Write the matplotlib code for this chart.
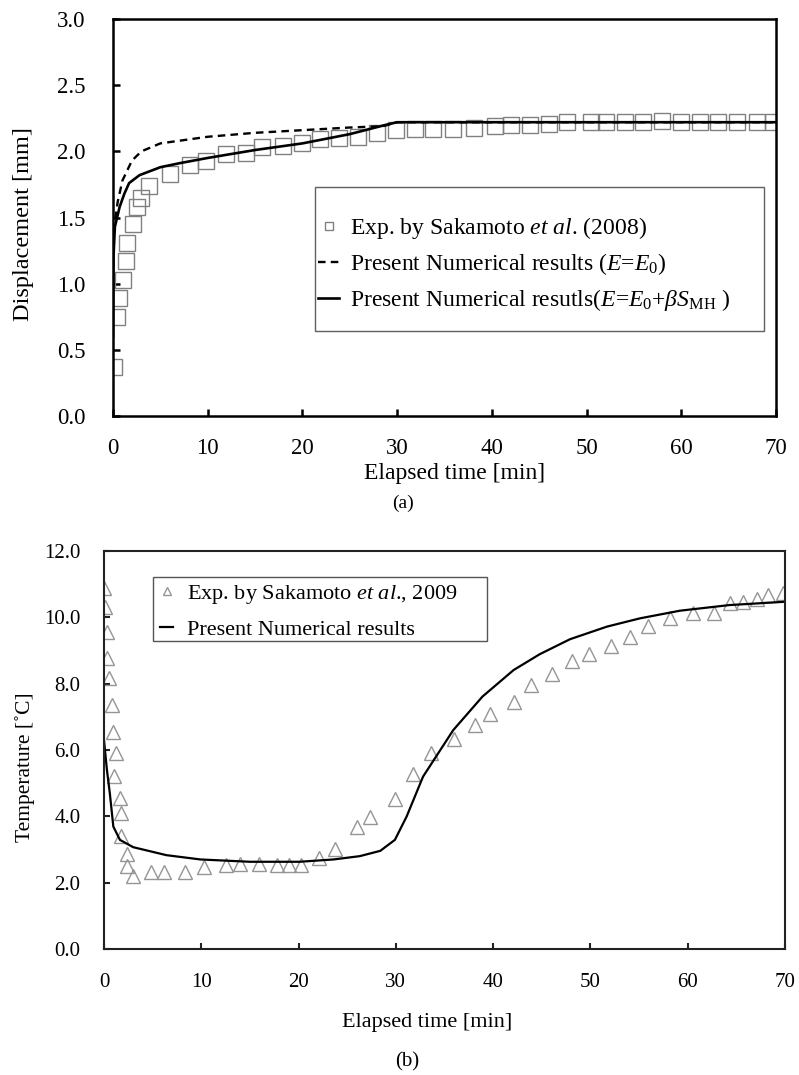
import matplotlib
matplotlib.use("Agg")
import matplotlib.pyplot as plt
from matplotlib.patches import Rectangle

plt.rcParams['font.family'] = ['Liberation Serif', 'DejaVu Serif']
plt.rcParams['mathtext.fontset'] = 'custom'
plt.rcParams['mathtext.rm'] = 'Liberation Serif'
plt.rcParams['mathtext.it'] = 'Liberation Serif:italic'
plt.rcParams['mathtext.bf'] = 'Liberation Serif:bold'

# ---------------- data: panel (a) displacement ----------------
exp_a_t = [0.1, 0.39, 0.67, 1.02, 1.34, 1.51, 2.08, 2.53, 2.92, 3.83, 6.0, 8.1, 9.8,
           11.9, 14.0, 15.7, 17.9, 20.0, 21.9, 23.9, 25.9, 27.9, 29.9, 31.9, 33.8,
           35.9, 38.1, 40.3, 42.0, 44.0, 46.0, 47.9, 50.5, 52.1, 54.1, 56.0, 58.0,
           60.0, 62.0, 63.9, 65.9, 68.0, 69.7]
exp_a_d = [0.37, 0.75, 0.89, 1.03, 1.17, 1.31, 1.45, 1.58, 1.65, 1.74, 1.83, 1.90, 1.93,
           1.98, 1.99, 2.03, 2.04, 2.06, 2.09, 2.10, 2.11, 2.14, 2.16, 2.17, 2.17,
           2.17, 2.18, 2.19, 2.20, 2.20, 2.21, 2.22, 2.22, 2.22, 2.22, 2.22, 2.23,
           2.22, 2.22, 2.22, 2.22, 2.22, 2.22]

num0_t = [0, 0.15, 0.5, 1.0, 2.0, 3.0, 5.0, 6.0, 10, 15, 20, 25, 28.5, 30, 40, 50, 60, 70]
num0_d = [1.2, 1.45, 1.62, 1.78, 1.93, 2.00, 2.06, 2.07, 2.11, 2.14, 2.16, 2.18, 2.19,
          2.22, 2.22, 2.22, 2.22, 2.22]

num1_t = [0, 0.05, 0.2, 0.7, 1.2, 1.7, 2.8, 5, 7, 10, 15, 20, 25, 28.8, 30, 40, 50, 60, 70]
num1_d = [0.6, 1.2, 1.43, 1.58, 1.68, 1.76, 1.82, 1.88, 1.91, 1.95, 2.01, 2.06, 2.13,
          2.20, 2.22, 2.22, 2.22, 2.22, 2.22]

# ---------------- data: panel (b) temperature ----------------
exp_b_t = [0.0, 0.1, 0.27, 0.27, 0.55, 0.86, 0.9, 1.2, 1.06, 1.64, 1.71, 1.71, 2.33, 2.4,
           3.0, 4.83, 6.2, 8.3, 10.3, 12.5, 14.0, 15.9, 17.8, 19.0, 20.2, 22.1, 23.7,
           26.0, 27.3, 29.9, 31.8, 33.6, 36.0, 38.1, 39.7, 42.1, 43.9, 46.1, 48.1,
           49.9, 52.1, 54.1, 55.9, 58.2, 60.5, 62.7, 64.3, 65.7, 67.1, 68.3, 69.8]
exp_b_T = [10.87, 10.32, 9.57, 8.76, 8.16, 7.36, 6.55, 5.90, 5.22, 4.54, 4.11, 3.41, 2.86,
           2.50, 2.20, 2.33, 2.33, 2.33, 2.48, 2.53, 2.56, 2.56, 2.53, 2.53, 2.53, 2.73,
           3.02, 3.69, 3.99, 4.51, 5.28, 5.90, 6.32, 6.75, 7.09, 7.46, 7.96, 8.29, 8.68,
           8.89, 9.13, 9.42, 9.74, 9.98, 10.12, 10.12, 10.44, 10.47, 10.55, 10.67, 10.72]

num_b_t = [0, 0.3, 0.6, 0.96, 1.64, 3.0, 6.4, 9.9, 15, 20.1, 23.6, 26.3, 28.4, 29.9,
           31.1, 32.8, 35.9, 38.9, 42.1, 44.8, 47.9, 51.7, 55.1, 59.2, 64.3, 70]
num_b_T = [6.3, 5.4, 4.69, 3.69, 3.29, 3.07, 2.83, 2.70, 2.63, 2.63, 2.70, 2.80, 2.96,
           3.29, 3.99, 5.20, 6.60, 7.61, 8.41, 8.89, 9.34, 9.72, 9.97, 10.2, 10.37, 10.47]

x_ticks = [0, 10, 20, 30, 40, 50, 60, 70]
ya_ticks = [0.0, 0.5, 1.0, 1.5, 2.0, 2.5, 3.0]
yb_ticks = [0.0, 2.0, 4.0, 6.0, 8.0, 10.0, 12.0]

lab_a = [r"Exp. by Sakamoto $et$ $al$. (2008)",
         r"Present Numerical results ($E$=$E_0$)",
         r"Present Numerical resutls($E$=$E_0$+$\beta S_{\mathrm{MH}}$ )"]
lab_b = [r"Exp. by Sakamoto $et$ $al$., 2009", "Present Numerical results"]

W, H = 799, 1075
fig = plt.figure(figsize=(W / 100, H / 100), dpi=100)


def fx(px):
    return px / W


def fy(py):
    return 1 - py / H


def axes_px(l, r, t, b):
    return fig.add_axes([fx(l), fy(b), (r - l) / W, (b - t) / H])


# ---------------- panel (a) ----------------
ax1 = axes_px(113, 776, 19, 416)
h1, = ax1.plot(exp_a_t, exp_a_d, ls='none', marker='s', ms=11, mfc='none',
               mec='#808080', mew=1.0)
h2, = ax1.plot(num0_t, num0_d, ls=(0, (3.2, 2.2)), color='black', lw=1.7)
h3, = ax1.plot(num1_t, num1_d, ls='-', color='black', lw=1.9)
ax1.set_xlim(0, 70)
ax1.set_ylim(0, 3.0)
ax1.set_xticks(x_ticks)
ax1.set_yticks(ya_ticks)
ax1.set_yticklabels([f"{v:.1f}" for v in ya_ticks])
for s in ['top', 'right', 'left', 'bottom']:
    ax1.spines[s].set_linewidth(1.8)
    ax1.spines[s].set_color('black')
ax1.tick_params(direction='in', length=5, width=1.8, labelsize=16.5, top=False, right=False)
ax1.tick_params(axis='y', pad=20)
ax1.tick_params(axis='x', pad=16)

leg1 = ax1.legend([h1, h2, h3], lab_a, frameon=False, loc='upper left',
                  bbox_to_anchor=(fx(318), fy(215)), bbox_transform=fig.transFigure,
                  borderpad=0, borderaxespad=0, handlelength=0.9, handletextpad=0.45,
                  labelspacing=0.42, fontsize=17, markerscale=0.52)
fig.add_artist(Rectangle((fx(315), fy(331)), (764 - 315) / W, (331 - 187) / H,
                         transform=fig.transFigure, fill=False, ec='#606060', lw=1.0))

fig.text(fx(24), fy(224), "Displacement [mm]", rotation=90, ha='center', va='center',
         fontsize=17.5)
fig.text(fx(455), fy(474), "Elapsed time [min]", ha='center', va='center', fontsize=17)
fig.text(fx(403), fy(503), "(a)", ha='center', va='center', fontsize=14)

# ---------------- panel (b) ----------------
ax2 = axes_px(104, 785, 551, 949)
g1, = ax2.plot(exp_b_t, exp_b_T, ls='none', marker='^', ms=10, mfc='none',
               mec='#959595', mew=1.0)
g2, = ax2.plot(num_b_t, num_b_T, ls='-', color='black', lw=1.6)
ax2.set_xlim(0, 70)
ax2.set_ylim(0, 12.0)
ax2.set_xticks(x_ticks)
ax2.set_yticks(yb_ticks)
ax2.set_yticklabels([f"{v:.1f}" for v in yb_ticks])
for s in ['top', 'right', 'left', 'bottom']:
    ax2.spines[s].set_linewidth(1.5)
    ax2.spines[s].set_color('#222222')
ax2.tick_params(direction='in', length=4.5, width=1.5, color='#222222', labelsize=15,
                top=False, right=False)
ax2.tick_params(axis='y', pad=17)
ax2.tick_params(axis='x', pad=17)

leg2 = ax2.legend([g1, g2], lab_b, frameon=False, loc='upper left',
                  bbox_to_anchor=(fx(160), fy(583)), bbox_transform=fig.transFigure,
                  borderpad=0, borderaxespad=0, handlelength=0.6, handletextpad=0.6,
                  labelspacing=0.59, fontsize=16, markerscale=0.55)
fig.add_artist(Rectangle((fx(153), fy(641)), (487 - 153) / W, (641 - 577) / H,
                         transform=fig.transFigure, fill=False, ec='#555555', lw=1.0))

fig.text(fx(25), fy(767), "Temperature [˚C]", rotation=90, ha='center', va='center',
         fontsize=15.5)
fig.text(fx(427), fy(1023), "Elapsed time [min]", ha='center', va='center', fontsize=16)
fig.text(fx(407), fy(1062), "(b)", ha='center', va='center', fontsize=15)

fig.savefig("out.png", dpi=100)
